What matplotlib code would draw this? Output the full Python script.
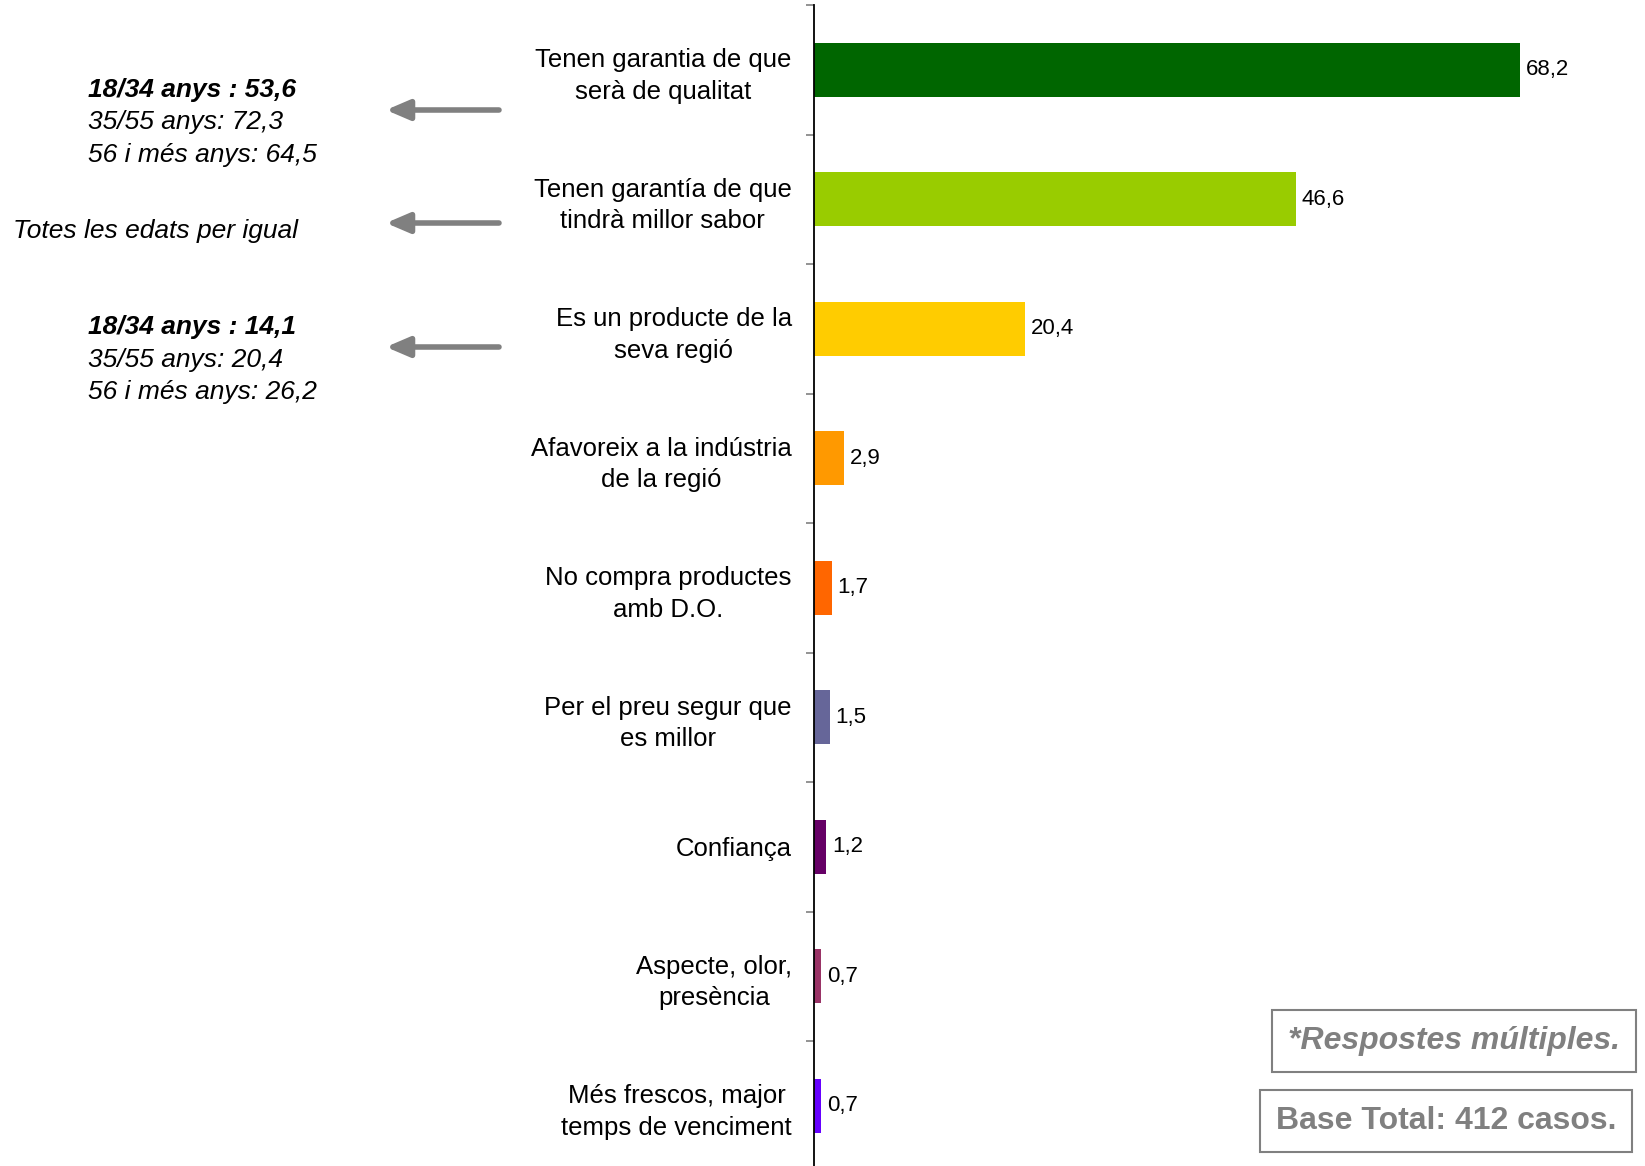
import numpy as np
import matplotlib.pyplot as plt

plt.rcParams['font.family'] = ['Liberation Sans', 'DejaVu Sans']

categories = ['Tenen garantia de que\nserà de qualitat',
              'Tenen garantía de que\ntindrà millor sabor',
              'Es un producte de la\nseva regió',
              'Afavoreix a la indústria\nde la regió',
              'No compra productes\namb D.O.',
              'Per el preu segur que\nes millor',
              'Confiança',
              'Aspecte, olor,\npresència',
              'Més frescos, major\ntemps de venciment']
values = [68.2, 46.6, 20.4, 2.9, 1.7, 1.5, 1.2, 0.7, 0.7]
colors = ['#006600', '#99CC00', '#FFCC00', '#FF9900', '#FF6600',
          '#666699', '#660066', '#993366', '#6600FF']

notes1 = ['18/34 anys : 53,6', '35/55 anys: 72,3', '56 i més anys: 64,5']
note2 = 'Totes les edats per igual'
notes3 = ['18/34 anys : 14,1', '35/55 anys: 20,4', '56 i més anys: 26,2']

W, H = 1645, 1166
fig = plt.figure(figsize=(W / 100, H / 100), dpi=100)
ax = fig.add_axes([814 / W, -4.5 / H, 828 / W, 1165.5 / H])

y = np.arange(len(values))
ax.barh(y, values, height=0.42, color=colors)
ax.set_xlim(0, 80)
ax.set_ylim(len(values) - 0.5, -0.5)

for i, v in enumerate(values):
    ax.annotate(f'{v:.1f}'.replace('.', ','), (v, i), xytext=(4, 0),
                textcoords='offset points', va='center', ha='left', fontsize=16)

# ticks at category boundaries, labels at centres
ax.set_yticks(np.arange(-0.5, len(values), 1))
ax.set_yticklabels([])
ax.tick_params(axis='y', which='major', length=6, width=1.2, color='#808080')
ax.set_yticks(y, minor=True)
ax.set_yticklabels(categories, minor=True, fontsize=18.5)
ax.tick_params(axis='y', which='minor', length=0, pad=16)
for lab in ax.get_yticklabels(minor=True):
    lab.set_multialignment('center')
    lab.set_linespacing(1.4)

ax.xaxis.set_visible(False)
for s in ['top', 'right', 'bottom']:
    ax.spines[s].set_visible(False)
ax.spines['left'].set_linewidth(1.3)

# notes on the left
def px(xp, yp):
    return xp / W, 1 - yp / H

for j, t in enumerate(notes1):
    fig.text(*px(88, 90 + j * 32.5), t, fontsize=19, style='italic',
             weight='bold' if j == 0 else 'normal', va='center')
fig.text(*px(13, 231), note2, fontsize=19, style='italic', va='center')
for j, t in enumerate(notes3):
    fig.text(*px(88, 327 + j * 32.5), t, fontsize=19, style='italic',
             weight='bold' if j == 0 else 'normal', va='center')

for yp in [110, 223, 347]:
    fig.add_artist(plt.matplotlib.patches.FancyArrowPatch(
        px(499, yp), px(386, yp), transform=fig.transFigure,
        arrowstyle='-|>,head_length=14,head_width=6', mutation_scale=1,
        lw=4, color='#808080', shrinkA=0, shrinkB=0))

fig.text(*px(1454, 1041), '*Respostes múltiples.', fontsize=23, style='italic',
         weight='bold', color='#808080', ha='center', va='center',
         bbox=dict(boxstyle='square,pad=0.5', fc='white', ec='#808080', lw=1.5))
fig.text(*px(1446, 1121), 'Base Total: 412 casos.', fontsize=23,
         weight='bold', color='#808080', ha='center', va='center',
         bbox=dict(boxstyle='square,pad=0.5', fc='white', ec='#808080', lw=1.5))

fig.savefig('out.png', dpi=100)
